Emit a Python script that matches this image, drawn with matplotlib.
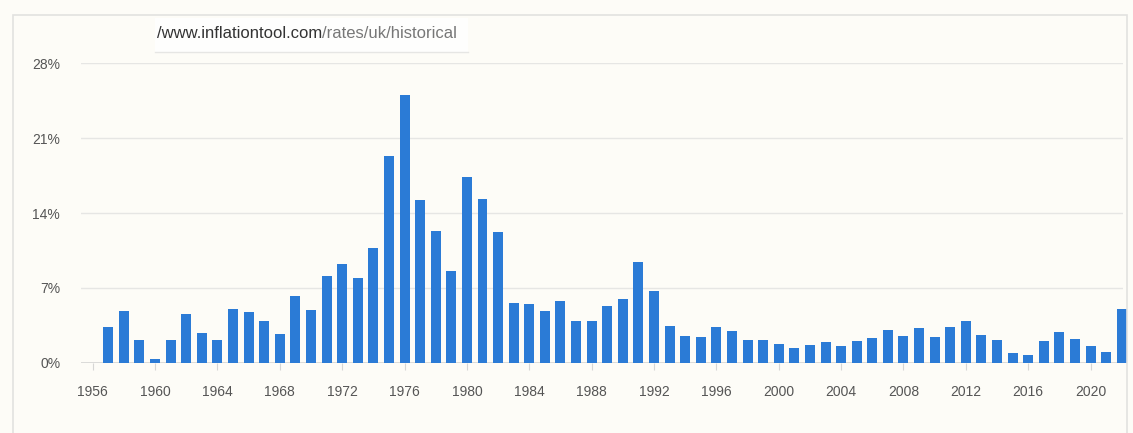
import matplotlib.pyplot as plt
from matplotlib.patches import Rectangle
from matplotlib.lines import Line2D

years = list(range(1957, 2023))
rates = [3.3, 4.8, 2.1, 0.3, 2.1, 4.6, 2.8, 2.1, 5.0, 4.7,
         3.9, 2.7, 6.2, 4.9, 8.1, 9.2, 7.9, 10.7, 19.3, 25.0,
         15.2, 12.3, 8.6, 17.4, 15.3, 12.2, 5.6, 5.5, 4.8, 5.8,
         3.9, 3.9, 5.3, 6.0, 9.4, 6.7, 3.4, 2.5, 2.4, 3.3,
         3.0, 2.1, 2.1, 1.75, 1.4, 1.65, 1.9, 1.55, 2.0, 2.3,
         3.1, 2.5, 3.2, 2.4, 3.3, 3.9, 2.6, 2.1, 0.9, 0.7,
         2.0, 2.9, 2.2, 1.6, 1.0, 5.0]
xticks = list(range(1956, 2021, 4))
yticks = [0, 7, 14, 21, 28]
url_dark = "/www.inflationtool.com"
url_light = "/rates/uk/historical"

bg = '#fdfcf7'
W, H = 1133, 433
plt.rcParams['font.family'] = ['Liberation Sans', 'DejaVu Sans']

fig = plt.figure(figsize=(W / 100, H / 100), dpi=100, facecolor=bg)

ax = fig.add_axes([81 / W, (H - 362.7) / H, (1122.7 - 81) / W, (362.7 - 63.3) / H])
ax.set_facecolor(bg)

# outer panel border (no fill)
fig.patches.append(Rectangle((13 / W, -0.1), (1127 - 13) / W, 1.1 - 15 / H,
                             transform=fig.transFigure, facecolor='none',
                             edgecolor='#e2e2e0', lw=1.2, zorder=5))

# url box
fig.patches.append(Rectangle((155 / W, 1 - 52 / H), (468 - 155) / W, 34 / H,
                             transform=fig.transFigure, facecolor='#fefefd',
                             edgecolor='none', zorder=1))
fig.lines.append(Line2D([155 / W, 468 / W], [1 - 52 / H, 1 - 52 / H],
                        transform=fig.transFigure, color='#e6e6e4', lw=1,
                        zorder=2))
t1 = fig.text(157 / W, 1 - 34 / H, url_dark, fontsize=12, color='#333333',
              va='center', ha='left', zorder=3)
fig.canvas.draw()
bb = t1.get_window_extent()
fig.text(bb.x1 / W, 1 - 34 / H, url_light, fontsize=12, color='#777777',
         va='center', ha='left', zorder=3)

ax.bar(years, rates, width=0.64, color='#2b7bd6', zorder=3, clip_on=False)

ax.set_xlim(1955.25, 2022.06)
ax.set_ylim(0, 28)
ax.set_yticks(yticks)
ax.set_yticklabels([f'{v}%' for v in yticks])
ax.set_xticks(xticks)
ax.set_xticklabels([str(v) for v in xticks])
ax.grid(axis='y', color='#e6e6e4', lw=1.0, zorder=0)
ax.axhline(0, color='#d6d6d4', lw=1.2, zorder=2)

for s in ax.spines.values():
    s.set_visible(False)
ax.tick_params(axis='y', length=0, pad=15, labelsize=10, labelcolor='#555555')
ax.tick_params(axis='x', length=5, width=0.8, color='#d6d6d4', pad=11,
               labelsize=10, labelcolor='#555555')

fig.savefig('out.png', dpi=100, facecolor=bg)
